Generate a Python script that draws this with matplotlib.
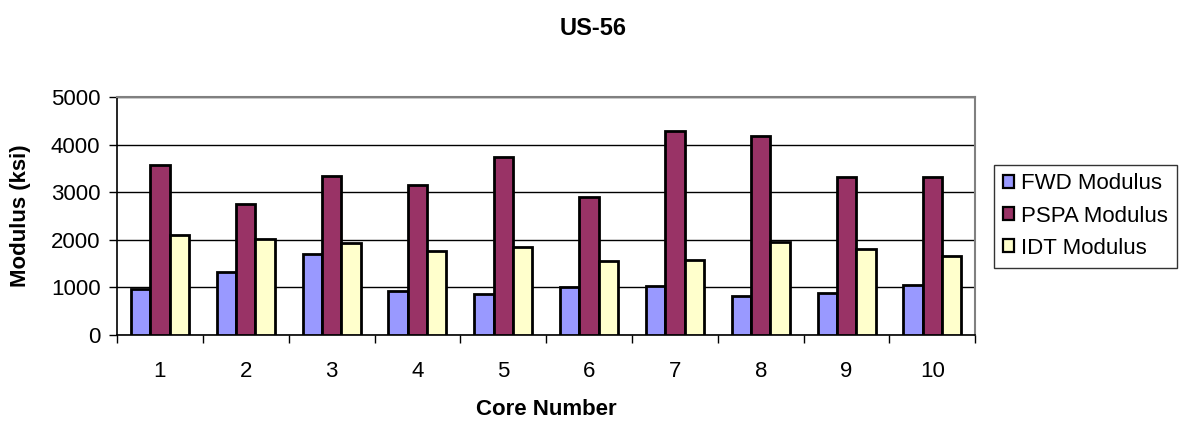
import matplotlib
matplotlib.use("Agg")
import matplotlib.pyplot as plt
import numpy as np

plt.rcParams['font.family'] = ['Liberation Sans', 'DejaVu Sans']

cores = ['1', '2', '3', '4', '5', '6', '7', '8', '9', '10']
fwd_modulus = [970, 1320, 1710, 930, 870, 1000, 1040, 810, 880, 1050]
pspa_modulus = [3570, 2760, 3330, 3160, 3730, 2900, 4285, 4190, 3310, 3310]
idt_modulus = [2110, 2020, 1930, 1760, 1850, 1550, 1580, 1960, 1800, 1670]

series = [
    ('FWD Modulus', fwd_modulus, '#9999FF'),
    ('PSPA Modulus', pspa_modulus, '#993366'),
    ('IDT Modulus', idt_modulus, '#FFFFCC'),
]

fig = plt.figure(figsize=(11.92, 4.23), dpi=100)
ax = fig.add_axes([0.0982, 0.208, 0.7200, 0.5627])

x = np.arange(len(cores))
w = 0.225
for i, (name, vals, col) in enumerate(series):
    ax.bar(x + (i - 1) * w, vals, width=w, color=col, edgecolor='black',
           linewidth=2.0, label=name, zorder=3)

ax.set_xlim(-0.5, len(cores) - 0.5)
ax.set_ylim(0, 5000)
ax.set_yticks(range(0, 5001, 1000))
ax.set_xticks(x)
ax.set_xticklabels(cores)
ax.xaxis.set_minor_locator(matplotlib.ticker.FixedLocator(np.arange(-0.5, len(cores), 1)))
ax.tick_params(axis='x', which='major', length=0, pad=19, labelsize=16)
ax.tick_params(axis='x', which='minor', length=6, width=1, color='black')
ax.tick_params(axis='y', length=6, width=1, labelsize=16, pad=6)
ax.tick_params(axis='y', direction='out')
ax.yaxis.grid(True, color='black', linewidth=1, zorder=0)
ax.set_axisbelow(True)

for side in ('top', 'right'):
    ax.spines[side].set_color('#808080')
    ax.spines[side].set_linewidth(1.5)
for side in ('left', 'bottom'):
    ax.spines[side].set_color('black')
    ax.spines[side].set_linewidth(1.2)

ax.set_xlabel('Core Number', fontsize=16, fontweight='bold', labelpad=12)
ax.set_ylabel('Modulus (ksi)', fontsize=16, fontweight='bold', labelpad=14)
fig.text(0.4975, 0.932, 'US-56', ha='center', va='center', fontsize=17, fontweight='bold')

leg = ax.legend(loc='center left', bbox_to_anchor=(1.022, 0.5), frameon=True,
                fancybox=False, edgecolor='black', fontsize=16,
                handlelength=0.5, handleheight=0.5, handletextpad=0.3,
                labelspacing=0.5, borderpad=0.4, borderaxespad=0)
leg.get_frame().set_linewidth(1.0)
for h in leg.legend_handles:
    h.set_linewidth(1.6)

fig.savefig('out.png', dpi=100)
